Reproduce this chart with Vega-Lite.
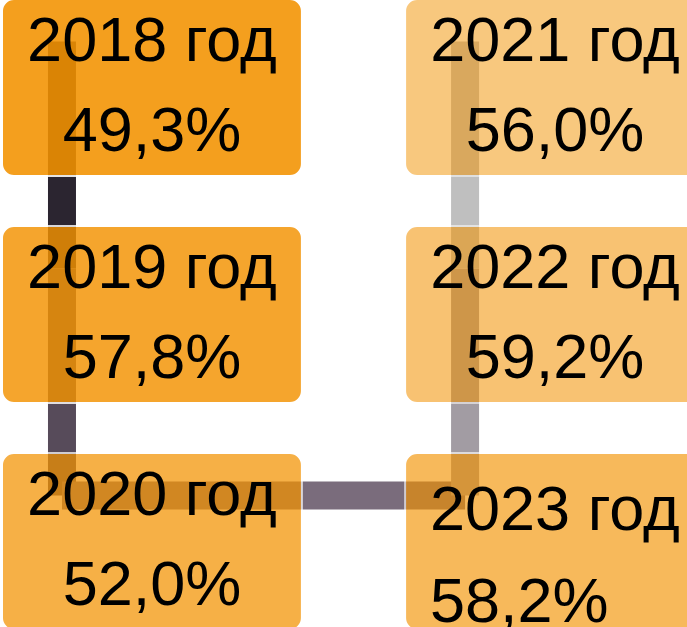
{
  "$schema": "https://vega.github.io/schema/vega-lite/v6.json",
  "width": 687,
  "height": 627,
  "autosize": "none",
  "padding": 0,
  "background": "white",
  "config": {"view": {"stroke": null}},
  "datasets": {
    "boxes": [
      {"year": "2018", "label": "2018 год", "value": "49,3%", "col": 0, "row": 0},
      {"year": "2019", "label": "2019 год", "value": "57,8%", "col": 0, "row": 1},
      {"year": "2020", "label": "2020 год", "value": "52,0%", "col": 0, "row": 2},
      {"year": "2021", "label": "2021 год", "value": "56,0%", "col": 1, "row": 0},
      {"year": "2022", "label": "2022 год", "value": "59,2%", "col": 1, "row": 1},
      {"year": "2023", "label": "2023 год", "value": "58,2%", "col": 1, "row": 2}
    ],
    "links": [
      {"seg": "2018-2019", "pt": 0, "col": 0, "row": 0},
      {"seg": "2018-2019", "pt": 1, "col": 0, "row": 1},
      {"seg": "2019-2020", "pt": 0, "col": 0, "row": 1},
      {"seg": "2019-2020", "pt": 1, "col": 0, "row": 2},
      {"seg": "2020-2023", "pt": 0, "col": 0, "row": 2},
      {"seg": "2020-2023", "pt": 1, "col": 1, "row": 2},
      {"seg": "2023-2022", "pt": 0, "col": 1, "row": 2},
      {"seg": "2023-2022", "pt": 1, "col": 1, "row": 1},
      {"seg": "2022-2021", "pt": 0, "col": 1, "row": 1},
      {"seg": "2022-2021", "pt": 1, "col": 1, "row": 0}
    ]
  },
  "encoding": {
    "x": {"field": "col", "type": "ordinal", "axis": null,
          "scale": {"domain": [0, 1], "range": [2, 705], "paddingInner": 0.256, "paddingOuter": 0}},
    "y": {"field": "row", "type": "ordinal", "axis": null,
          "scale": {"domain": [0, 1, 2], "range": [-1, 630], "paddingInner": 0.22, "paddingOuter": 0}}
  },
  "layer": [
    {
      "data": {"name": "links"},
      "mark": {"type": "line", "strokeWidth": 28, "strokeCap": "butt"},
      "encoding": {
        "x": {"field": "col", "type": "ordinal", "bandPosition": 0.2},
        "y": {"field": "row", "type": "ordinal", "bandPosition": 0.24},
        "detail": {"field": "seg"},
        "order": {"field": "pt", "type": "quantitative"},
        "color": {"field": "seg", "type": "nominal", "legend": null,
                  "scale": {"domain": ["2018-2019", "2019-2020", "2020-2023", "2023-2022", "2022-2021"],
                            "range": ["#2b2530", "#574b5a", "#7a6c7c", "#a29ca3", "#bfbfbf"]}}
      }
    },
    {
      "data": {"name": "boxes"},
      "mark": {"type": "rect", "cornerRadius": 12, "fill": "#f39200", "stroke": "white", "strokeWidth": 2},
      "encoding": {
        "opacity": {"field": "year", "type": "ordinal", "legend": null,
                    "scale": {"type": "ordinal", "domain": ["2018", "2019", "2020", "2023", "2022", "2021"],
                              "range": [0.88, 0.82, 0.72, 0.64, 0.55, 0.5]}}
      }
    },
    {
      "data": {"name": "boxes"},
      "transform": [{"filter": "datum.year != '2023'"}],
      "mark": {"type": "text", "font": "Liberation Sans", "fontSize": 63, "color": "black", "align": "center", "baseline": "alphabetic"},
      "encoding": {
        "x": {"field": "col", "type": "ordinal", "bandPosition": 0.5},
        "y": {"field": "row", "type": "ordinal", "bandPosition": 0.35},
        "text": {"field": "label"}
      }
    },
    {
      "data": {"name": "boxes"},
      "transform": [{"filter": "datum.year != '2023'"}],
      "mark": {"type": "text", "font": "Liberation Sans", "fontSize": 63, "color": "black", "align": "center", "baseline": "alphabetic"},
      "encoding": {
        "x": {"field": "col", "type": "ordinal", "bandPosition": 0.5},
        "y": {"field": "row", "type": "ordinal", "bandPosition": 0.86},
        "text": {"field": "value"}
      }
    },
    {
      "data": {"name": "boxes"},
      "transform": [{"filter": "datum.year == '2023'"}],
      "mark": {"type": "text", "font": "Liberation Sans", "fontSize": 63, "color": "black", "align": "left", "baseline": "alphabetic"},
      "encoding": {
        "x": {"field": "col", "type": "ordinal", "bandPosition": 0.083},
        "y": {"field": "row", "type": "ordinal", "bandPosition": 0.435},
        "text": {"field": "label"}
      }
    },
    {
      "data": {"name": "boxes"},
      "transform": [{"filter": "datum.year == '2023'"}],
      "mark": {"type": "text", "font": "Liberation Sans", "fontSize": 63, "color": "black", "align": "left", "baseline": "alphabetic"},
      "encoding": {
        "x": {"field": "col", "type": "ordinal", "bandPosition": 0.083},
        "y": {"field": "row", "type": "ordinal", "bandPosition": 0.955},
        "text": {"field": "value"}
      }
    }
  ]
}
